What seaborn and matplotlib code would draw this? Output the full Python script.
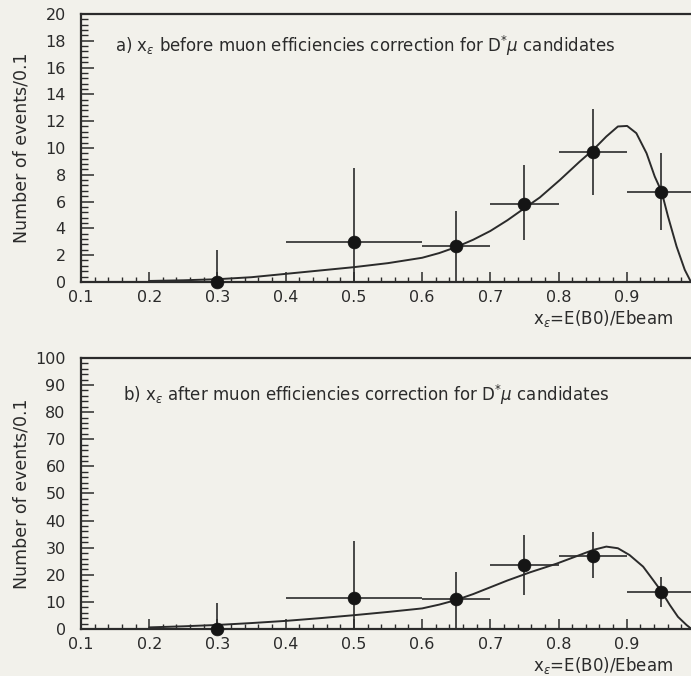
import numpy as np
import pandas as pd
import matplotlib
matplotlib.use("Agg")
import matplotlib.pyplot as plt
from matplotlib.ticker import MultipleLocator
import seaborn as sns

# ---------------- data ----------------
x_pts = [0.3, 0.5, 0.65, 0.75, 0.85, 0.95]
x_lo = [0.2, 0.4, 0.6, 0.7, 0.8, 0.9]
x_hi = [0.4, 0.6, 0.7, 0.8, 0.9, 1.0]
x_ticks = [0.1, 0.2, 0.3, 0.4, 0.5, 0.6, 0.7, 0.8, 0.9]
x_tick_labels = ["0.1", "0.2", "0.3", "0.4", "0.5", "0.6", "0.7", "0.8", "0.9"]

# panel a
a_y = [0.0, 3.0, 2.7, 5.8, 9.7, 6.7]
a_ylo = [0.0, 0.0, 0.0, 3.1, 6.5, 3.9]
a_yhi = [2.4, 8.5, 5.3, 8.7, 12.9, 9.6]
a_curve_x = [0.2, 0.25, 0.3, 0.35, 0.4, 0.45, 0.5, 0.55, 0.6, 0.625, 0.65,
             0.675, 0.7, 0.725, 0.75, 0.7725, 0.8018, 0.831, 0.8506, 0.870,
             0.887, 0.9005, 0.914, 0.929, 0.941, 0.951, 0.9605, 0.973, 0.985,
             0.9938]
a_curve_y = [0.07, 0.12, 0.2, 0.35, 0.6, 0.85, 1.1, 1.4, 1.8, 2.15, 2.6,
             3.15, 3.8, 4.6, 5.5, 6.3, 7.6, 8.98, 9.85, 10.85,
             11.6, 11.64, 11.1, 9.6, 7.86, 6.74, 4.87, 2.64, 0.9,
             0.02]

# panel b
b_y = [0.0, 11.5, 11.0, 23.5, 26.9, 13.5]
b_ylo = [0.0, 0.0, 0.0, 12.5, 18.7, 8.2]
b_yhi = [9.5, 32.6, 20.9, 34.7, 35.7, 19.3]
b_curve_x = [0.2, 0.25, 0.3, 0.35, 0.4, 0.45, 0.5, 0.55, 0.6, 0.625, 0.65,
             0.675, 0.7, 0.725, 0.758, 0.797, 0.831, 0.851, 0.870, 0.887,
             0.904, 0.924, 0.9385, 0.951, 0.963, 0.975, 0.9875, 0.994]
b_curve_y = [0.6, 1.0, 1.5, 2.2, 3.0, 4.0, 5.1, 6.3, 7.6, 9.0, 10.7,
             12.9, 15.4, 17.9, 20.9, 24.1, 27.3, 29.2, 30.4, 29.8,
             27.3, 23.0, 18.1, 13.8, 8.9, 4.5, 1.5, 0.2]

# ---------------- style ----------------
BG = "#f2f1eb"
INK = "#2b2b2b"
sns.set_theme(style="ticks")
plt.rcParams["font.family"] = ["DejaVu Sans"]
plt.rcParams["mathtext.fontset"] = "dejavusans"

fig = plt.figure(figsize=(6.91, 6.76), dpi=100)
fig.patch.set_facecolor(BG)

ax_a = fig.add_axes([0.1172, 0.5830, 0.8886, 0.3964])
ax_b = fig.add_axes([0.1172, 0.0695, 0.8886, 0.4010])


def draw(ax, ys, ylo, yhi, cx, cy, ymax, ymaj, ymin, label):
    ax.set_facecolor(BG)
    df_c = pd.DataFrame({"x": cx, "y": cy})
    sns.lineplot(data=df_c, x="x", y="y", ax=ax, color=INK, lw=1.4,
                 sort=False, estimator=None)
    xs = np.array(x_pts)
    ys_a = np.array(ys)
    xerr = [xs - np.array(x_lo), np.array(x_hi) - xs]
    yerr = [ys_a - np.array(ylo), np.array(yhi) - ys_a]
    ax.errorbar(xs, ys_a, xerr=xerr, yerr=yerr, fmt="none", ecolor=INK,
                elinewidth=1.2, capsize=0, zorder=3)
    df_p = pd.DataFrame({"x": x_pts, "y": ys})
    sns.scatterplot(data=df_p, x="x", y="y", ax=ax, color="#151515", s=85,
                    edgecolor="#151515", linewidth=0.5, zorder=4, clip_on=False)
    ax.set_xlim(0.1, 1.0)
    ax.set_ylim(0, ymax)
    ax.xaxis.set_minor_locator(MultipleLocator(0.02))
    ax.yaxis.set_major_locator(MultipleLocator(ymaj))
    ax.yaxis.set_minor_locator(MultipleLocator(ymin))
    ax.set_xticks(x_ticks)
    ax.set_xticklabels(x_tick_labels)
    ax.tick_params(axis="both", which="both", direction="in", color=INK,
                   labelcolor=INK, labelsize=11.5)
    ax.tick_params(axis="x", which="major", length=7.5, width=1.1, pad=6)
    ax.tick_params(axis="x", which="minor", length=3.8, width=1.0)
    ax.tick_params(axis="y", which="major", length=9, width=1.1, pad=11)
    ax.tick_params(axis="y", which="minor", length=5, width=1.0)
    ax.tick_params(axis="x", which="both", top=False)
    ax.tick_params(axis="y", which="both", right=False)
    for s in ["left", "top", "bottom"]:
        ax.spines[s].set_color(INK)
        ax.spines[s].set_linewidth(1.6)
    ax.spines["right"].set_visible(False)
    ax.set_xlabel("")
    ax.set_ylabel("Number of events/0.1", fontsize=12.5, color=INK)
    ax.yaxis.set_label_coords(-0.082, 0.5)
    ax.text(0.964, -0.135, r"x$_\varepsilon$=E(B0)/Ebeam", transform=ax.transAxes,
            ha="right", va="center", fontsize=12, color=INK)
    ax.text(label[0], label[1], label[2], transform=ax.transAxes, ha="left",
            va="center", fontsize=12, color=INK)


draw(ax_a, a_y, a_ylo, a_yhi, a_curve_x, a_curve_y, 20, 2, 0.4,
     (0.055, 0.88, r"a) x$_\varepsilon$ before muon efficiencies correction for D$^{*}\mu$ candidates"))
draw(ax_b, b_y, b_ylo, b_yhi, b_curve_x, b_curve_y, 100, 10, 2,
     (0.068, 0.863, r"b) x$_\varepsilon$ after muon efficiencies correction for D$^{*}\mu$ candidates"))

fig.savefig("out.png", dpi=100, facecolor=BG)
